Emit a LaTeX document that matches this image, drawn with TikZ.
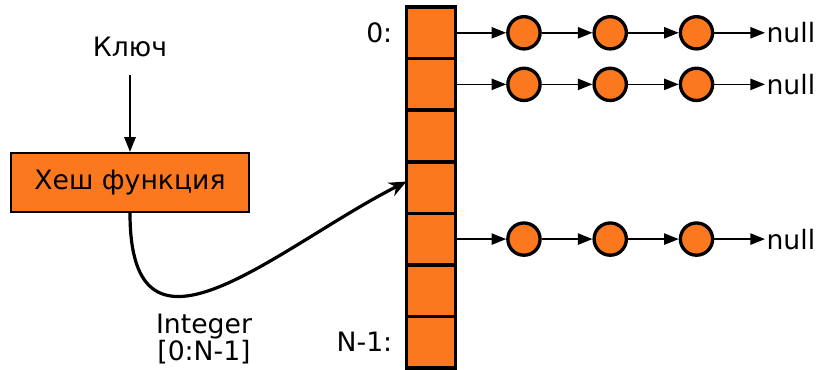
\documentclass[tikz,border=0pt]{standalone}
\usepackage{fontspec}
\setmainfont{DejaVu Sans}
\definecolor{hashorange}{RGB}{252,120,30}
\usetikzlibrary{arrows.meta, positioning, calc}

\begin{document}
\begin{tikzpicture}[x=0.75pt, y=0.75pt,
    every node/.style={font=\fontsize{20}{16}\selectfont},
    cell/.style={draw, line width=2.7pt, fill=hashorange, minimum width=36.75pt,
                 minimum height=38.68pt, inner sep=0pt, outer sep=0pt},
    dot/.style={circle, draw, line width=2.5pt, fill=hashorange,
                minimum size=24.2pt, inner sep=0pt},
    hashbox/.style={draw, line width=1.7pt, fill=hashorange,
                    minimum width=178.5pt, minimum height=44.25pt},
    ptr/.style={line width=1.2pt, -{Triangle[length=11pt, width=8.5pt]}},
    link/.style={line width=2.4pt, -{Stealth[length=13pt, width=11pt]}}
]
\useasboundingbox (0,0) rectangle (821,370);

% bucket array
\node[cell] (c0) at (431,337.2) {};
\foreach \i [remember=\i as \j (initially 0)] in {1,...,6}
  \node[cell, below=0pt of c\j] (c\i) {};
\node[inner sep=0pt, left=10.5pt of c0] (first) {0:};
\node[inner sep=0pt, left=10.5pt of c6] (last) {N-1:};

% hash function
\node (key) at (130,323) {Ключ};
\node[hashbox] (hash) at (130,187.5) {Хеш функция};
\draw[ptr, shorten <=10pt] (key.south) -- (hash.north);
\draw[link] (hash.south) .. controls +(0,-172) and +(-130,-66) .. ($(c3.west)+(0,6)$);
\node[inner sep=0pt, align=center] (range) at (204,31) {Integer\\{[0:N-1]}};

% chains
\foreach \r in {0,1,4} {
  \node[dot, right=38pt of c\r] (d\r1) {};
  \node[dot, right=38pt of d\r1] (d\r2) {};
  \node[dot, right=38pt of d\r2] (d\r3) {};
  \node[inner sep=1pt, right=38pt of d\r3] (n\r) {null};
  \draw[ptr] (c\r.east) -- (d\r1);
  \draw[ptr] (d\r1) -- (d\r2);
  \draw[ptr] (d\r2) -- (d\r3);
  \draw[ptr] (d\r3) -- (n\r);
}
\end{tikzpicture}
\end{document}
